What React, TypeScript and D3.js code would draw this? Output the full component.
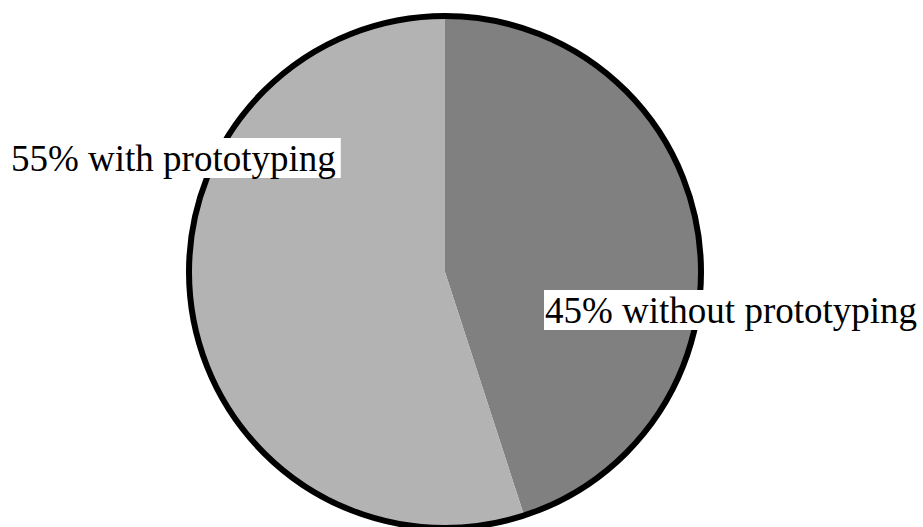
import React, { useEffect, useRef } from "react";
import * as d3 from "d3";

const categories = ["without prototyping", "with prototyping"];
const values = [45, 55];
const colors = ["#808080", "#b3b3b3"];
const labelTexts = ["45% without prototyping", "55% with prototyping"];

const W = 923;
const H = 527;
const CX = 445;
const CY = 272;
const R = 256;
const labelPos = [
  { x: 545, y: 323 },
  { x: 11, y: 171 },
];

export default function App() {
  const ref = useRef<SVGSVGElement>(null);
  useEffect(() => {
    const svg = d3.select(ref.current);
    svg.selectAll("*").remove();
    const pie = d3.pie<number>().sort(null).value((d) => d);
    const arc = d3.arc<d3.PieArcDatum<number>>().innerRadius(0).outerRadius(R);
    const g = svg.append("g").attr("transform", `translate(${CX},${CY})`);
    g.selectAll("path")
      .data(pie(values))
      .join("path")
      .attr("d", arc)
      .attr("fill", (_d, i) => colors[i]);
    g.append("circle")
      .attr("r", R)
      .attr("fill", "none")
      .attr("stroke", "#000")
      .attr("stroke-width", 6);
    const lg = svg.append("g");
    categories.forEach((_c, i) => {
      const t = lg
        .append("text")
        .attr("x", labelPos[i].x)
        .attr("y", labelPos[i].y)
        .attr("font-family", "'Liberation Serif', 'Times New Roman', serif")
        .attr("font-size", 37)
        .attr("fill", "#000")
        .text(labelTexts[i]);
      const bb = (t.node() as SVGTextElement).getBBox();
      lg.insert("rect", () => t.node() as any)
        .attr("x", bb.x - 1)
        .attr("y", labelPos[i].y - 33)
        .attr("width", bb.width + 6)
        .attr("height", 40)
        .attr("fill", "#fff");
    });
  }, []);
  return (
    <svg
      ref={ref}
      width={W}
      height={H}
      style={{ position: "absolute", left: 0, top: 0, background: "#fff" }}
    />
  );
}
